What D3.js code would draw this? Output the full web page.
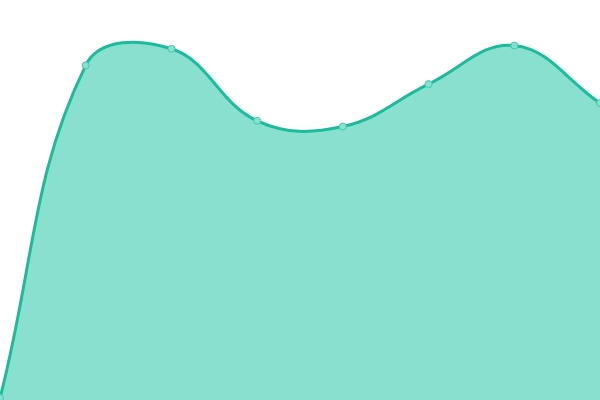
<!DOCTYPE html>
<html>
<head>
<meta charset="utf-8">
<script src="https://cdn.jsdelivr.net/npm/d3@7"></script>
<style>
  html, body { margin: 0; padding: 0; background: #fff; }
  svg { display: block; }
</style>
</head>
<body>
<svg id="chart"></svg>
<script>
const categories = ["A", "B", "C", "D", "E", "F", "G", "H"];
const values = [0, 92.4, 97.0, 77.0, 75.4, 87.2, 97.9, 81.9];

const width = 600, height = 400;
const lineColor = "#1abc9c";
const fillColor = "#89e0cf";
const pointStroke = "#45c8ad";

// spline with tension, control points along (next - prev), like a canvas chart lib
function tensionCurve(tension) {
  function Curve(context) { this._context = context; }
  Curve.prototype = {
    areaStart() { this._line = 0; },
    areaEnd() { this._line = NaN; },
    lineStart() { this._pts = []; },
    point(x, y) { this._pts.push([+x, +y]); },
    lineEnd() {
      const ctx = this._context, p = this._pts, n = p.length;
      if (n) {
        if (this._line) ctx.lineTo(p[0][0], p[0][1]);
        else ctx.moveTo(p[0][0], p[0][1]);
      }
      if (n === 2) ctx.lineTo(p[1][0], p[1][1]);
      if (n > 2) {
        const cps = p.map((m, i) => {
          const a = p[i - 1] || m, b = p[i + 1] || m;
          const d01 = Math.hypot(m[0] - a[0], m[1] - a[1]);
          const d12 = Math.hypot(b[0] - m[0], b[1] - m[1]);
          let s01 = d01 / (d01 + d12), s12 = d12 / (d01 + d12);
          if (isNaN(s01)) s01 = 0;
          if (isNaN(s12)) s12 = 0;
          const fa = tension * s01, fb = tension * s12;
          return {
            prev: [m[0] - fa * (b[0] - a[0]), m[1] - fa * (b[1] - a[1])],
            next: [m[0] + fb * (b[0] - a[0]), m[1] + fb * (b[1] - a[1])]
          };
        });
        for (let i = 1; i < n; i++) {
          const c1 = cps[i - 1].next, c2 = cps[i].prev;
          ctx.bezierCurveTo(c1[0], c1[1], c2[0], c2[1], p[i][0], p[i][1]);
        }
      }
      if (this._line || (this._line !== 0 && n === 1)) ctx.closePath();
      this._line = 1 - this._line;
    }
  };
  return context => new Curve(context);
}

const svg = d3.select("#chart")
  .attr("width", width)
  .attr("height", height);

const xScale = d3.scalePoint()
  .domain(categories)
  .range([0, width]);

const yScale = d3.scaleLinear()
  .domain([0, 100])
  .range([398, 38]);

const curve = tensionCurve(0.4);

const area = d3.area()
  .x((d, i) => xScale(categories[i]))
  .y0(height)
  .y1(d => yScale(d))
  .curve(curve);

const line = d3.line()
  .x((d, i) => xScale(categories[i]))
  .y(d => yScale(d))
  .curve(curve);

svg.append("path")
  .datum(values)
  .attr("d", area)
  .attr("fill", fillColor);

svg.append("path")
  .datum(values)
  .attr("d", line)
  .attr("fill", "none")
  .attr("stroke", lineColor)
  .attr("stroke-width", 3);

svg.selectAll("circle")
  .data(values).enter()
  .append("circle")
  .attr("cx", (d, i) => xScale(categories[i]))
  .attr("cy", d => yScale(d))
  .attr("r", 3.5)
  .attr("fill", fillColor)
  .attr("stroke", pointStroke)
  .attr("stroke-width", 1);
</script>
</body>
</html>
